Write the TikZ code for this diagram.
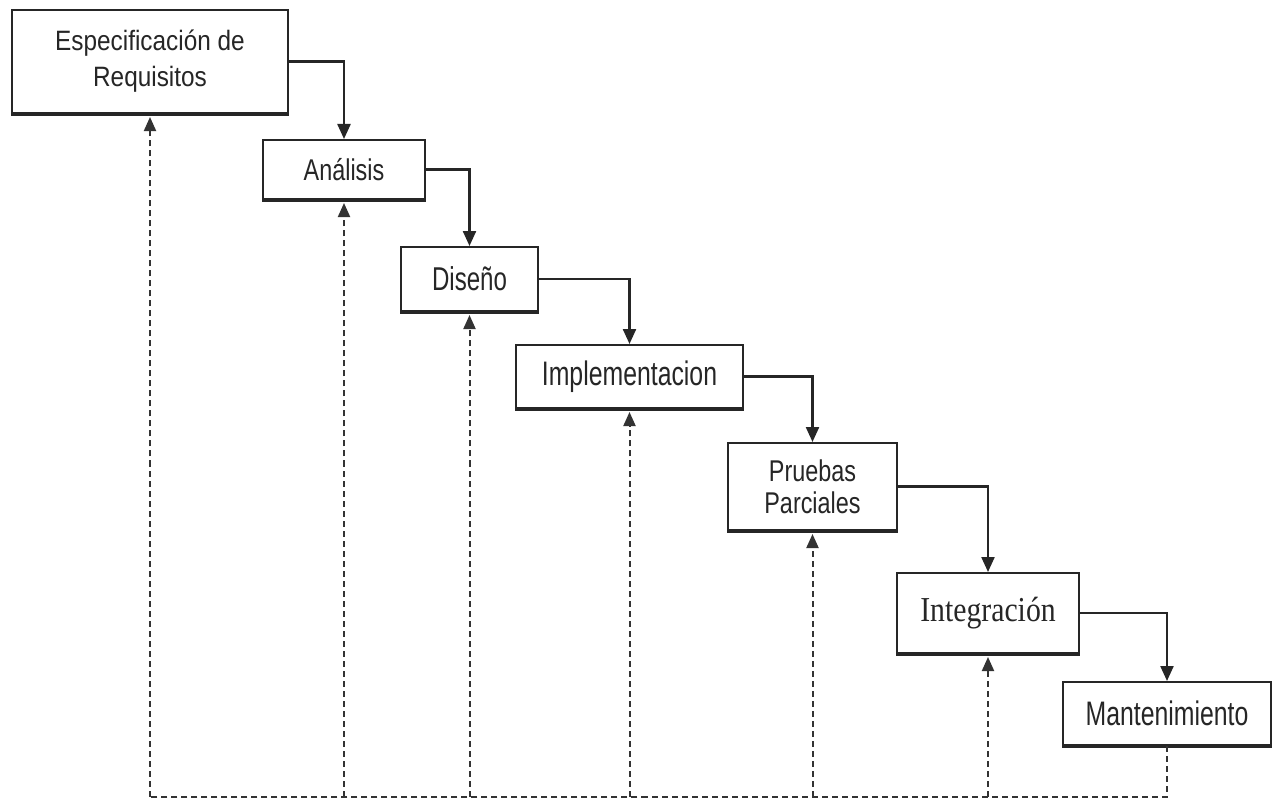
\documentclass[tikz,border=0pt]{standalone}
\usepackage{fontspec}
\setmainfont{Liberation Sans}
\newfontfamily\fwide[FakeStretch=0.87]{Liberation Sans}
\newfontfamily\fmid[FakeStretch=0.78]{Liberation Sans}
\newfontfamily\fnarrow[FakeStretch=0.73]{Liberation Sans}
\newfontfamily\fserif[FakeStretch=0.85]{Liberation Serif}
\usetikzlibrary{arrows.meta}
\begin{document}
\begin{tikzpicture}[x=1bp,y=-1bp,
  phase/.style={draw=black!85, line width=2bp, fill=white, inner sep=0pt,
    align=center, text=black!85},
  flow/.style={draw=black!85, line width=2.3bp,
    -{Triangle[length=15bp,width=13bp]}},
  feedback/.style={draw=black!80, line width=2bp, dash pattern=on 6bp off 4bp},
  back/.style={feedback, -{Triangle[length=14bp,width=12bp]}}
]
\useasboundingbox (0,0) rectangle (1277,799);

% phases of the waterfall
\node[phase, minimum width=276bp, minimum height=103bp,
  font={\fwide\fontsize{28bp}{36bp}\selectfont}] (req) at (150,61.5)
  {Especificación de\\Requisitos};
\node[phase, minimum width=162bp, minimum height=59bp,
  font={\fmid\fontsize{30bp}{36bp}\selectfont}] (ana) at (344,169.5)
  {Análisis};
\node[phase, minimum width=137bp, minimum height=64bp,
  font={\fnarrow\fontsize{33bp}{40bp}\selectfont}] (dis) at (469.5,279)
  {Diseño};
\node[phase, minimum width=227bp, minimum height=63bp,
  font={\fnarrow\fontsize{34bp}{40bp}\selectfont}] (imp) at (629.5,376.5)
  {Implementacion};
\node[phase, minimum width=169bp, minimum height=87bp,
  font={\fmid\fontsize{30bp}{32bp}\selectfont}] (pru) at (812.5,486.5)
  {Pruebas\\Parciales};
\node[phase, minimum width=182bp, minimum height=80bp,
  font={\fserif\fontsize{35bp}{40bp}\selectfont}] (int) at (988,613)
  {Integración};
\node[phase, minimum width=208bp, minimum height=63bp,
  font={\fnarrow\fontsize{34bp}{40bp}\selectfont}] (man) at (1167,713.5)
  {Mantenimiento};

% heavier lower edges of the boxes
\foreach \n in {req,ana,dis,imp,pru,int,man}
  \draw[black!85, line width=3bp] (\n.south west) -- (\n.south east);

% forward flow between phases
\draw[flow] (req.east) -| (ana.north);
\draw[flow] (ana.east) -| (dis.north);
\draw[flow] (dis.east) -| (imp.north);
\draw[flow] (imp.east) -| (pru.north);
\draw[flow] (pru.east) -| (int.north);
\draw[flow] (int.east) -| (man.north);

% feedback paths along the bottom
\coordinate (base) at (0,796.5);
\draw[feedback] (man.south) -- (man.south |- base) -- (req.south |- base);
\foreach \n in {req,ana,dis,imp,pru,int}
  \draw[back] (\n.south |- base) -- ([yshift=-3bp]\n.south);
\end{tikzpicture}
\end{document}
